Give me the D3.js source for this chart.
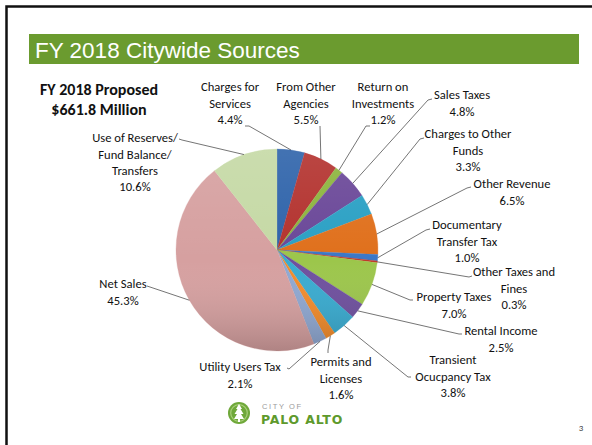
<!DOCTYPE html>
<html>
<head>
<meta charset="utf-8">
<script src="https://cdn.jsdelivr.net/npm/d3@7"></script>
<style>
  html, body { margin: 0; padding: 0; background: #fff; }
  svg { display: block; }
</style>
</head>
<body>
<svg id="chart" width="592" height="445"></svg>
<script>
// Revenue sources, in pie order (clockwise from 12 o'clock)
const categories = [
  "Charges for Services", "From Other Agencies", "Return on Investments",
  "Sales Taxes", "Charges to Other Funds", "Other Revenue",
  "Documentary Transfer Tax", "Other Taxes and Fines", "Property Taxes",
  "Rental Income", "Transient Ocucpancy Tax", "Permits and Licenses",
  "Utility Users Tax", "Net Sales", "Use of Reserves/ Fund Balance/ Transfers"
];
const shares = [4.4, 5.5, 1.2, 4.8, 3.3, 6.5, 1.0, 0.3, 7.0, 2.5, 3.8, 1.6, 2.1, 45.3, 10.6];
const labelLines = [
  ["Charges for", "Services"],
  ["From Other", "Agencies"],
  ["Return on", "Investments"],
  ["Sales Taxes"],
  ["Charges to Other", "Funds"],
  ["Other Revenue"],
  ["Documentary", "Transfer Tax"],
  ["Other Taxes and", "Fines"],
  ["Property Taxes"],
  ["Rental Income"],
  ["Transient", "Ocucpancy Tax"],
  ["Permits and", "Licenses"],
  ["Utility Users Tax"],
  ["Net Sales"],
  ["Use of Reserves/", "Fund Balance/", "Transfers"]
];
const titleText = "FY 2018 Citywide Sources";
const totalLines = ["FY 2018 Proposed", "$661.8 Million"];
const pageNumber = "3";

// Slice colours
const colors = [
  "#2f63aa", "#b3312f", "#8cb43e", "#6a4698", "#2ca0c4", "#e0701f",
  "#3b78c8", "#c23a2c", "#9cc64b", "#6e4f9e", "#37abd0", "#f28b29",
  "#8fa8d2", "#d6a0a0", "#c5d9a5"
];

// Label placement: text centre x, first line centre y, leader elbow and end
const labelLayout = [
  { x: 230, y: 87,  elbow: [249, 126], end: [245, 126] },
  { x: 306, y: 87,  elbow: [320, 126], end: [320, 126] },
  { x: 383, y: 87,  elbow: [366, 126], end: [370, 126] },
  { x: 462, y: 95,  elbow: [428, 100], end: [432, 99] },
  { x: 468, y: 134, elbow: [420, 139], end: [424, 138] },
  { x: 512, y: 184, elbow: [467, 188], end: [471, 187] },
  { x: 467, y: 225, elbow: [426, 230], end: [430, 229] },
  { x: 514, y: 272, elbow: [469, 277], end: [472, 276] },
  { x: 454, y: 297, elbow: [410, 300], end: [413, 300] },
  { x: 501, y: 331, elbow: [459, 334], end: [462, 334] },
  { x: 453, y: 360, elbow: [408, 377], end: [411, 377] },
  { x: 341, y: 362, elbow: [328, 350], end: [328, 353] },
  { x: 240, y: 367, elbow: [289, 369], end: [287, 368] },
  { x: 123, y: 284, elbow: [150, 287], end: [147, 286] },
  { x: 135, y: 138, elbow: [182, 140], end: [179, 139] }
];

const svg = d3.select("#chart");
const labelFont = "Carlito, Calibri, Lato, 'Open Sans', sans-serif";

// Slide frame
svg.append("path")
  .attr("d", "M6.5,600 V6.5 H600")
  .attr("fill", "none").attr("stroke", "#111").attr("stroke-width", 2.5);

// Title bar
svg.append("rect").attr("x", 29).attr("y", 34).attr("width", 550).attr("height", 30)
  .attr("fill", "#6b9b2f");
svg.append("text").attr("x", 35).attr("y", 57.5)
  .attr("font-family", "'Liberation Sans', Arial, sans-serif").attr("font-size", 22.5)
  .attr("fill", "#fff").text(titleText);

// Total
svg.append("g").selectAll("text").data(totalLines).join("text")
  .attr("x", 99).attr("y", (d, i) => 89 + i * 20).attr("dy", "0.35em")
  .attr("text-anchor", "middle").attr("font-family", labelFont)
  .attr("font-weight", "bold").attr("font-size", 16).attr("fill", "#111")
  .text(d => d);

// Pie
const cx = 277, cy = 250, radius = 101;
const pie = d3.pie().sort(null).value(d => d.value);
const data = categories.map((c, i) => ({ name: c, value: shares[i], i }));
const arcs = pie(data);
const arc = d3.arc().innerRadius(0).outerRadius(radius);

const defs = svg.append("defs");
const shade = defs.append("linearGradient").attr("id", "shade")
  .attr("x1", 0).attr("y1", 0).attr("x2", 0).attr("y2", 1);
shade.append("stop").attr("offset", "0%").attr("stop-color", "#fff").attr("stop-opacity", 0.10);
shade.append("stop").attr("offset", "55%").attr("stop-color", "#fff").attr("stop-opacity", 0);
shade.append("stop").attr("offset", "100%").attr("stop-color", "#000").attr("stop-opacity", 0.18);
const soft = defs.append("filter").attr("id", "soft")
  .attr("x", "-10%").attr("y", "-10%").attr("width", "120%").attr("height", "120%");
soft.append("feGaussianBlur").attr("stdDeviation", 0.6);

const pieG = svg.append("g").attr("transform", `translate(${cx},${cy})`);
pieG.append("g").attr("filter", "url(#soft)")
  .selectAll("path").data(arcs).join("path")
  .attr("d", arc)
  .attr("fill", d => colors[d.data.i])
  .attr("stroke", d => colors[d.data.i]).attr("stroke-width", 0.3);
pieG.append("circle").attr("r", radius).attr("fill", "url(#shade)");

// Leader lines from each slice's outer edge to its label
const edge = d => {
  const a = (d.startAngle + d.endAngle) / 2;
  return [cx + radius * Math.sin(a), cy - radius * Math.cos(a)];
};
svg.append("g").selectAll("polyline").data(arcs).join("polyline")
  .attr("points", d => {
    const L = labelLayout[d.data.i];
    return [edge(d), L.elbow, L.end].map(p => p.join(",")).join(" ");
  })
  .attr("fill", "none").attr("stroke", "#3a3a3a").attr("stroke-width", 0.7);

// Labels: name lines followed by the percentage
const lineH = 16.3;
const labels = svg.append("g").selectAll("text").data(arcs).join("text")
  .attr("font-family", labelFont).attr("font-size", 12.6).attr("fill", "#111")
  .attr("text-anchor", "middle");
labels.each(function(d) {
  const L = labelLayout[d.data.i];
  const lines = labelLines[d.data.i].concat([d.data.value.toFixed(1) + "%"]);
  d3.select(this).selectAll("tspan").data(lines).join("tspan")
    .attr("x", L.x).attr("y", (t, k) => L.y + k * lineH).attr("dy", "0.35em")
    .text(t => t);
});

// City logo
const logo = svg.append("g");
logo.append("circle").attr("cx", 239).attr("cy", 413).attr("r", 11).attr("fill", "#6fa83a");
logo.append("circle").attr("cx", 239).attr("cy", 413).attr("r", 8.3).attr("fill", "none")
  .attr("stroke", "#a9cf7a").attr("stroke-width", 1.2);
logo.append("path")
  .attr("d", "M239,404 L242,409 L240.5,409 L243.5,414 L241,414 L244,419 L240,419 L240,422 L238,422 L238,419 L234,419 L237,414 L234.5,414 L237.5,409 L236,409 Z")
  .attr("fill", "#fff");
logo.append("text").attr("x", 262).attr("y", 409)
  .attr("font-family", "'Liberation Sans', Arial, sans-serif").attr("font-size", 7.5)
  .attr("letter-spacing", 1.6).attr("fill", "#9a9a9a").text("CITY OF");
logo.append("text").attr("x", 261).attr("y", 424)
  .attr("font-family", "'DejaVu Sans', sans-serif").attr("font-weight", "bold").attr("font-size", 12.5)
  .attr("letter-spacing", 0.8).attr("fill", "#5e9a2c").text("PALO ALTO");

// Page number
svg.append("text").attr("x", 581).attr("y", 431)
  .attr("font-family", labelFont).attr("font-size", 9).attr("fill", "#444")
  .attr("text-anchor", "middle").text(pageNumber);
</script>
</body>
</html>
